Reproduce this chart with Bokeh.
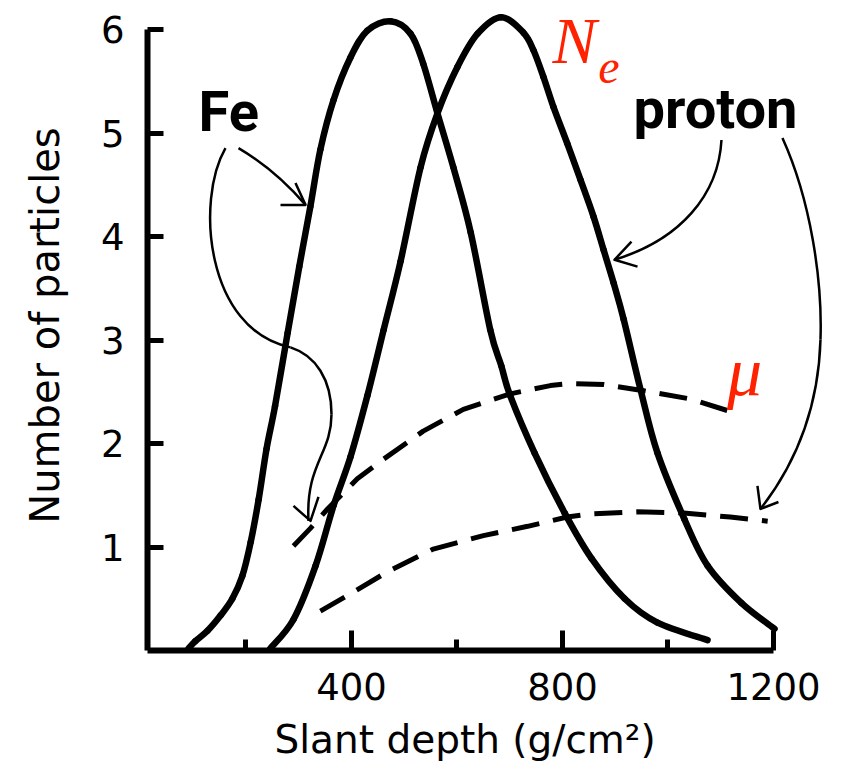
import numpy as np
from bokeh.plotting import figure
from bokeh.models import FixedTicker, Title
from bokeh.core.properties import value
from bokeh.embed import file_html
from bokeh.resources import INLINE

# ---------------- data ----------------
fe_depth = [91, 104, 127, 152, 174, 193, 209, 224, 239, 255, 279, 301, 322, 341, 366, 398, 430,
            474, 512, 536, 563, 593, 626, 663, 684, 701, 747, 804, 855, 918, 980, 1075]
fe_ne = [0.02, 0.09, 0.19, 0.34, 0.50, 0.72, 1.05, 1.46, 1.95, 2.36, 3.07, 3.71, 4.29, 4.84, 5.32, 5.73, 5.99,
         6.08, 5.96, 5.67, 5.19, 4.67, 4.04, 3.10, 2.75, 2.46, 1.91, 1.33, 0.89, 0.50, 0.27, 0.10]

p_depth = [246, 290, 332, 366, 398, 430, 461, 493, 531, 563, 601, 639, 684,
           726, 745, 764, 783, 809, 834, 859, 878, 897, 916, 948, 980, 1031, 1075, 1139, 1202]
p_ne = [0.02, 0.30, 0.82, 1.40, 1.87, 2.46, 3.10, 3.76, 4.67, 5.19, 5.64, 5.96, 6.12,
        5.97, 5.80, 5.54, 5.25, 4.90, 4.55, 4.19, 3.87, 3.55, 3.20, 2.52, 1.91, 1.27, 0.82, 0.46, 0.21]

fe_mu_depth = [290, 322, 355, 411, 461, 536, 612, 701, 777, 815, 878, 954, 1043, 1118]
fe_mu = [1.01, 1.18, 1.37, 1.66, 1.85, 2.12, 2.33, 2.48, 2.56, 2.58, 2.57, 2.51, 2.43, 2.31]

p_mu_depth = [341, 392, 468, 555, 650, 734, 809, 855, 942, 1024, 1118, 1189]
p_mu = [0.38, 0.53, 0.76, 0.98, 1.11, 1.20, 1.29, 1.32, 1.34, 1.33, 1.29, 1.25]

x_major_ticks = [400, 800, 1200]
x_minor_ticks = [200, 600, 1000]
y_major_ticks = [1, 2, 3, 4, 5, 6]

# annotation arrows (cubic bezier segments, data coordinates)
arr_x0 = [185.8, 161.1, 284.4, 362.1, 1101.4, 1217.0, 1289.1]
arr_y0 = [4.855, 4.855, 2.929, 2.283, 4.933, 4.952, 3.006]
arr_cx0 = [232.6, 104.3, 331.8, 362.1, 1095.7, 1270.1, 1285.3]
arr_cy0 = [4.714, 4.355, 2.852, 1.898, 4.403, 4.355, 2.331]
arr_cx1 = [274.9, 123.2, 362.1, 312.8, 1023.7, 1292.9, 1241.7]
arr_cy1 = [4.531, 3.102, 2.620, 1.802, 3.969, 3.584, 1.802]
arr_x1 = [312.8, 284.4, 362.1, 318.5, 898.6, 1289.1, 1175.3]
arr_y1 = [4.306, 2.929, 2.283, 1.252, 3.776, 3.006, 1.368]

head_xs = [[293.8, 312.8, 265.4], [290.0, 322.3, 337.4], [930.8, 898.6, 942.2], [1169.6, 1175.3, 1209.4]]
head_ys = [[4.518, 4.306, 4.306], [1.397, 1.252, 1.484], [3.950, 3.776, 3.709], [1.590, 1.368, 1.435]]


def smooth_segments(xs, ys):
    """Catmull-Rom control points so that a bezier path passes through every read point."""
    x = np.asarray(xs, float)
    y = np.asarray(ys, float)
    xp = np.concatenate([[x[0]], x, [x[-1]]])
    yp = np.concatenate([[y[0]], y, [y[-1]]])
    n = len(x) - 1
    seg = dict(x0=[], y0=[], x1=[], y1=[], cx0=[], cy0=[], cx1=[], cy1=[])
    for i in range(n):
        seg["x0"].append(x[i]); seg["y0"].append(y[i])
        seg["x1"].append(x[i + 1]); seg["y1"].append(y[i + 1])
        seg["cx0"].append(x[i] + (xp[i + 2] - xp[i]) / 6.0)
        seg["cy0"].append(y[i] + (yp[i + 2] - yp[i]) / 6.0)
        seg["cx1"].append(x[i + 1] - (xp[i + 3] - xp[i + 1]) / 6.0)
        seg["cy1"].append(y[i + 1] - (yp[i + 3] - yp[i + 1]) / 6.0)
    return seg


# ---------------- figure ----------------
x_start, x_end = 13.27, 1342.2
y_end = 6.281

p = figure(width=848, height=774, x_range=(x_start, x_end), y_range=(0, y_end),
           output_backend="svg", toolbar_location=None,
           min_border_left=147, min_border_right=0, min_border_top=0, min_border_bottom=122)
p.title.visible = False
p.outline_line_color = None
p.grid.visible = False
p.background_fill_color = "white"
p.border_fill_color = "white"

# electron-size curves (smooth paths through read points)
for xs, ys in ((fe_depth, fe_ne), (p_depth, p_ne)):
    p.bezier(**smooth_segments(xs, ys), line_color="black", line_width=6.5, line_cap="round")

# muon curves (dashed)
p.line(fe_mu_depth, fe_mu, line_color="black", line_width=5, line_dash="28 14", line_join="round")
p.line(p_mu_depth, p_mu, line_color="black", line_width=5, line_dash="28 14", line_join="round")

# arrows
p.bezier(x0=arr_x0, y0=arr_y0, x1=arr_x1, y1=arr_y1, cx0=arr_cx0, cy0=arr_cy0,
         cx1=arr_cx1, cy1=arr_cy1, line_color="black", line_width=2.5)
p.multi_line(head_xs, head_ys, line_color="black", line_width=2.5, line_join="round")

# labels
p.text(x=[110], y=[5.20], text=["Fe"], text_font=value("Roboto"),
       text_font_style="bold", text_font_size="56px", text_color="black",
       text_align="left", text_baseline="alphabetic")
p.text(x=[934.6], y=[5.23], text=["proton"], text_font=value("Roboto"),
       text_font_style="bold", text_font_size="56px", text_color="black",
       text_align="left", text_baseline="alphabetic")
p.text(x=[781], y=[5.895], text=["N"], text_font=value("Liberation Serif"),
       text_font_style="italic", text_font_size="66px", text_color="#ff2200",
       text_align="left", text_baseline="alphabetic")
p.text(x=[868], y=[5.64], text=["e"], text_font=value("Liberation Serif"),
       text_font_style="italic", text_font_size="48px", text_color="#ff2200",
       text_align="left", text_baseline="alphabetic")
p.text(x=[1112], y=[2.70], text=["μ"], text_font=value("Liberation Serif"),
       text_font_style="italic", text_font_size="70px", text_color="#ff2200",
       text_align="left", text_baseline="alphabetic")

# axes
xa = p.xaxis[0]
xa.ticker = FixedTicker(ticks=x_major_ticks, minor_ticks=x_minor_ticks)
xa.bounds = (x_start, 1200)
xa.axis_line_width = 6
xa.axis_line_color = "black"
xa.major_tick_line_width = 5
xa.minor_tick_line_width = 5
xa.major_tick_in = 20
xa.major_tick_out = 0
xa.minor_tick_in = 11
xa.minor_tick_out = 0
xa.major_label_text_font = "DejaVu Sans"
xa.major_label_text_font_size = "37px"
xa.major_label_text_color = "black"
xa.major_label_standoff = 22

ya = p.yaxis[0]
ya.ticker = FixedTicker(ticks=y_major_ticks, minor_ticks=[])
ya.bounds = (0, 6)
ya.axis_line_width = 6
ya.axis_line_color = "black"
ya.major_tick_line_width = 5
ya.major_tick_in = 16
ya.major_tick_out = 0
ya.minor_tick_line_color = None
ya.major_label_text_font = "DejaVu Sans"
ya.major_label_text_font_size = "37px"
ya.major_label_text_color = "black"
ya.major_label_standoff = 23
ya.axis_label = "Number of particles"
ya.axis_label_text_font = "DejaVu Sans"
ya.axis_label_text_font_size = "40px"
ya.axis_label_text_font_style = "normal"
ya.axis_label_text_color = "black"
ya.axis_label_standoff = 30

xt = Title(text="Slant depth (g/cm²)", align="left", offset=127,
           text_font="DejaVu Sans", text_font_size="39px", text_font_style="normal",
           text_color="black", standoff=25)
p.add_layout(xt, "below")

open("out.html", "w").write(file_html(p, INLINE))
